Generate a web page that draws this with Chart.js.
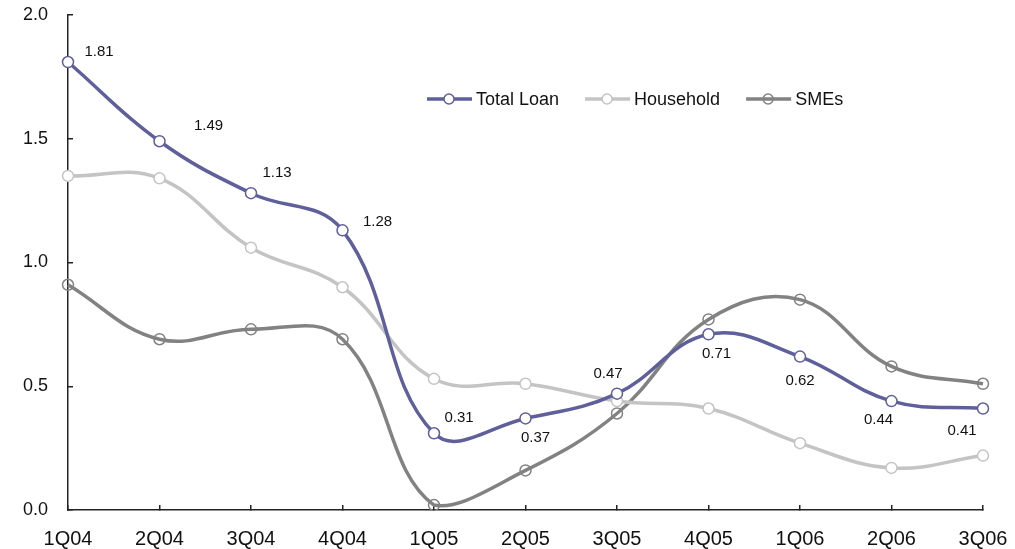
<!DOCTYPE html>
<html>
<head>
<meta charset="utf-8">
<script src="https://cdn.jsdelivr.net/npm/chart.js@4/dist/chart.umd.min.js"></script>
<style>
  html, body { margin: 0; padding: 0; background: #fff; }
  #wrap { width: 1015px; height: 549px; position: relative; }
</style>
</head>
<body>
<div id="wrap"><canvas id="loanChart"></canvas></div>
<script>
const quarters = ["1Q04", "2Q04", "3Q04", "4Q04", "1Q05", "2Q05", "3Q05", "4Q05", "1Q06", "2Q06", "3Q06"];
const totalLoan = [1.81, 1.49, 1.28, 1.13, 0.31, 0.37, 0.47, 0.71, 0.62, 0.44, 0.41];
const household = [1.35, 1.34, 1.06, 0.90, 0.53, 0.51, 0.44, 0.41, 0.27, 0.17, 0.22];
const smes = [0.91, 0.69, 0.73, 0.69, 0.02, 0.16, 0.39, 0.77, 0.85, 0.58, 0.51];
const totalLoanLabels = ["1.81", "1.49", "1.13", "1.28", "0.31", "0.37", "0.47", "0.71", "0.62", "0.44", "0.41"];

const FONT = "'Liberation Sans', Arial, sans-serif";

// value labels for the Total Loan line, offsets from each point
const valueLabels = {
  id: "valueLabels",
  afterDatasetsDraw(chart, args, opts) {
    const ctx = chart.ctx;
    const meta = chart.getDatasetMeta(0);
    ctx.save();
    ctx.font = "15px " + FONT;
    ctx.fillStyle = "#111";
    ctx.textAlign = "center";
    ctx.textBaseline = "middle";
    meta.data.forEach((pt, i) => {
      const off = opts.offsets[i];
      ctx.fillText(totalLoanLabels[i], pt.x + off[0], pt.y + off[1]);
    });
    ctx.restore();
  }
};

// legend drawn inside the plot: line + marker + text
const lineLegend = {
  id: "lineLegend",
  afterDraw(chart, args, opts) {
    const ctx = chart.ctx;
    ctx.save();
    ctx.font = "18px " + FONT;
    ctx.textBaseline = "middle";
    let x = opts.x;
    const y = opts.y;
    chart.data.datasets.forEach(ds => {
      ctx.strokeStyle = ds.borderColor;
      ctx.lineWidth = 3.5;
      ctx.beginPath();
      ctx.moveTo(x, y);
      ctx.lineTo(x + 45, y);
      ctx.stroke();
      ctx.beginPath();
      ctx.arc(x + 22, y, 5, 0, Math.PI * 2);
      if (ds.pointBackgroundColor !== "transparent") {
        ctx.fillStyle = ds.pointBackgroundColor;
        ctx.fill();
      }
      ctx.lineWidth = 1.5;
      ctx.strokeStyle = ds.pointBorderColor;
      ctx.stroke();
      ctx.fillStyle = "#111";
      ctx.fillText(ds.label, x + 49, y + 1);
      x += 49 + ctx.measureText(ds.label).width + 26;
    });
    ctx.restore();
  }
};

new Chart(document.getElementById("loanChart").getContext("2d"), {
  type: "line",
  data: {
    labels: quarters,
    datasets: [
      {
        label: "Total Loan",
        data: totalLoan,
        borderColor: "#5f5f9b",
        borderWidth: 3.5,
        pointBackgroundColor: "#ffffff",
        pointBorderColor: "#5f5f9b",
        pointBorderWidth: 1.5,
        pointRadius: 5.5,
        tension: 0.4
      },
      {
        label: "Household",
        data: household,
        borderColor: "#c4c4c4",
        borderWidth: 3.5,
        pointBackgroundColor: "#ffffff",
        pointBorderColor: "#c4c4c4",
        pointBorderWidth: 1.5,
        pointRadius: 5.5,
        tension: 0.4
      },
      {
        label: "SMEs",
        data: smes,
        borderColor: "#828282",
        borderWidth: 3.5,
        pointBackgroundColor: "transparent",
        pointBorderColor: "#828282",
        pointBorderWidth: 1.5,
        pointRadius: 5.5,
        tension: 0.4
      }
    ]
  },
  options: {
    responsive: true,
    maintainAspectRatio: false,
    animation: false,
    layout: { padding: { left: 20, right: 32, top: 15, bottom: 0 } },
    scales: {
      x: {
        offset: false,
        afterFit: s => { s.height = 39; s.paddingLeft = 0; s.paddingRight = 0; },
        grid: { drawOnChartArea: false, drawTicks: true, tickLength: -5, color: "#222", lineWidth: 1.5 },
        border: { color: "#222", width: 1.5 },
        ticks: { color: "#111", font: { family: FONT, size: 20 }, padding: 22, maxRotation: 0, autoSkip: false }
      },
      y: {
        min: 0,
        max: 2,
        afterFit: s => { s.width = 48; s.paddingTop = 0; s.paddingBottom = 0; },
        grid: { drawOnChartArea: false, drawTicks: true, tickLength: -5, color: "#222", lineWidth: 1.5 },
        border: { color: "#222", width: 1.5 },
        ticks: {
          stepSize: 0.5,
          color: "#111",
          font: { family: FONT, size: 18 },
          padding: 25,
          callback: v => v.toFixed(1)
        }
      }
    },
    plugins: {
      legend: { display: false },
      tooltip: { enabled: false },
      valueLabels: {
        offsets: [[31, -10], [49, -15], [26, -20], [35, -8], [25, -15], [10, 19], [-9, -20], [8, 20], [0, 24], [-13, 19], [-21, 22]]
      },
      lineLegend: { x: 427, y: 99 }
    }
  },
  plugins: [valueLabels, lineLegend]
});
</script>
</body>
</html>
